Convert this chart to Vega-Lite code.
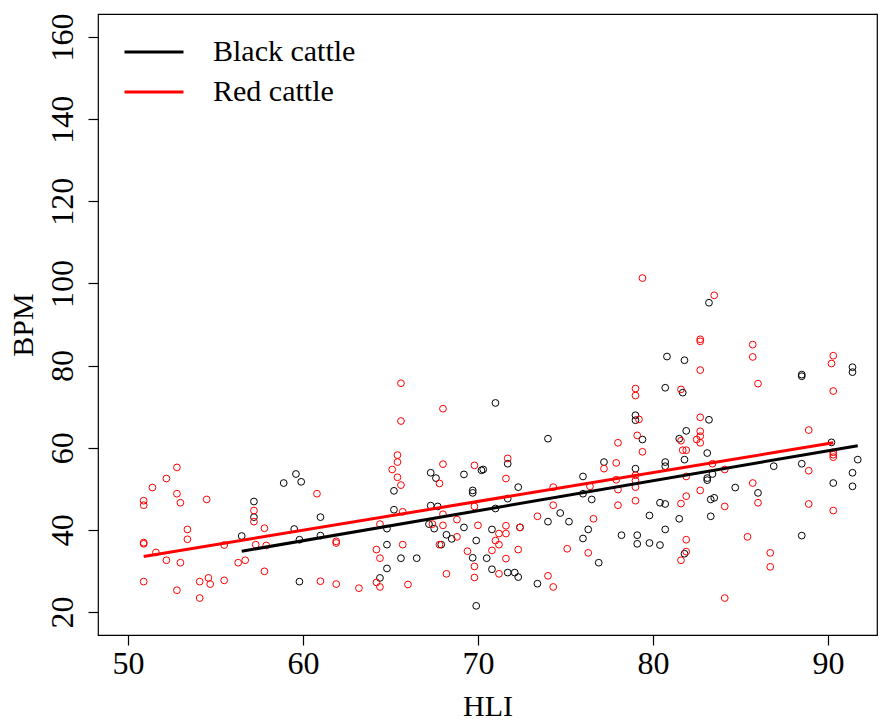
{
  "$schema": "https://vega.github.io/schema/vega-lite/v6.json",
  "width": 779,
  "height": 621,
  "autosize": {"type": "none"},
  "padding": {"left": 98, "top": 14, "right": 4, "bottom": 86},
  "background": "white",
  "config": {
    "view": {"stroke": "#000000", "strokeWidth": 1.2},
    "font": "Liberation Serif",
    "axis": {
      "grid": false, "domain": false, "tickColor": "#000000", "tickSize": 10, "tickWidth": 1.2,
      "labelFont": "Liberation Serif", "labelFontSize": 32, "labelColor": "#000000",
      "titleFont": "Liberation Serif", "titleFontSize": 30, "titleFontWeight": "normal", "titleColor": "#000000"
    }
  },
  "datasets": {
    "pts": [
      {"breed":"Black cattle","HLI":57.2,"BPM":46.9},{"breed":"Black cattle","HLI":57.2,"BPM":43.1},{"breed":"Black cattle","HLI":58.9,"BPM":51.4},{"breed":"Black cattle","HLI":59.6,"BPM":53.6},{"breed":"Black cattle","HLI":59.9,"BPM":51.7},{"breed":"Black cattle","HLI":56.5,"BPM":38.5},{"breed":"Black cattle","HLI":59.5,"BPM":40.2},{"breed":"Black cattle","HLI":59.8,"BPM":37.6},{"breed":"Black cattle","HLI":59.8,"BPM":27.4},
      {"breed":"Black cattle","HLI":71.0,"BPM":70.9},{"breed":"Black cattle","HLI":65.2,"BPM":49.5},{"breed":"Black cattle","HLI":67.3,"BPM":53.9},{"breed":"Black cattle","HLI":67.6,"BPM":52.6},{"breed":"Black cattle","HLI":69.2,"BPM":53.5},{"breed":"Black cattle","HLI":70.2,"BPM":54.5},{"breed":"Black cattle","HLI":70.3,"BPM":54.7},{"breed":"Black cattle","HLI":69.7,"BPM":49.6},{"breed":"Black cattle","HLI":69.7,"BPM":49.0},{"breed":"Black cattle","HLI":61.0,"BPM":43.1},{"breed":"Black cattle","HLI":65.2,"BPM":44.9},{"breed":"Black cattle","HLI":67.3,"BPM":45.9},{"breed":"Black cattle","HLI":67.7,"BPM":45.7},{"breed":"Black cattle","HLI":71.0,"BPM":45.2},{"breed":"Black cattle","HLI":61.0,"BPM":38.6},{"breed":"Black cattle","HLI":64.8,"BPM":40.3},{"breed":"Black cattle","HLI":67.2,"BPM":41.4},{"breed":"Black cattle","HLI":67.5,"BPM":40.3},{"breed":"Black cattle","HLI":69.2,"BPM":40.6},{"breed":"Black cattle","HLI":68.2,"BPM":38.8},{"breed":"Black cattle","HLI":68.5,"BPM":37.8},{"breed":"Black cattle","HLI":69.9,"BPM":37.4},{"breed":"Black cattle","HLI":70.8,"BPM":40.1},{"breed":"Black cattle","HLI":64.8,"BPM":36.4},{"breed":"Black cattle","HLI":67.9,"BPM":36.4},{"breed":"Black cattle","HLI":65.6,"BPM":33.1},{"breed":"Black cattle","HLI":66.5,"BPM":33.1},{"breed":"Black cattle","HLI":64.8,"BPM":30.6},{"breed":"Black cattle","HLI":64.4,"BPM":28.3},{"breed":"Black cattle","HLI":69.7,"BPM":33.2},{"breed":"Black cattle","HLI":70.5,"BPM":33.1},{"breed":"Black cattle","HLI":70.8,"BPM":30.4},{"breed":"Black cattle","HLI":69.9,"BPM":21.5},
      {"breed":"Black cattle","HLI":80.8,"BPM":82.2},{"breed":"Black cattle","HLI":81.8,"BPM":81.3},{"breed":"Black cattle","HLI":80.7,"BPM":74.6},{"breed":"Black cattle","HLI":81.7,"BPM":73.4},{"breed":"Black cattle","HLI":79.0,"BPM":67.9},{"breed":"Black cattle","HLI":79.0,"BPM":66.7},{"breed":"Black cattle","HLI":79.4,"BPM":62.0},{"breed":"Black cattle","HLI":74.0,"BPM":62.2},{"breed":"Black cattle","HLI":77.2,"BPM":56.5},{"breed":"Black cattle","HLI":79.0,"BPM":54.9},{"breed":"Black cattle","HLI":76.0,"BPM":53.0},{"breed":"Black cattle","HLI":76.0,"BPM":48.8},{"breed":"Black cattle","HLI":76.5,"BPM":47.4},{"breed":"Black cattle","HLI":80.7,"BPM":56.5},{"breed":"Black cattle","HLI":80.7,"BPM":55.5},{"breed":"Black cattle","HLI":81.5,"BPM":62.2},{"breed":"Black cattle","HLI":81.8,"BPM":57.1},{"breed":"Black cattle","HLI":81.9,"BPM":64.1},{"breed":"Black cattle","HLI":80.4,"BPM":46.6},{"breed":"Black cattle","HLI":80.7,"BPM":46.3},{"breed":"Black cattle","HLI":79.8,"BPM":43.5},{"breed":"Black cattle","HLI":81.5,"BPM":42.7},{"breed":"Black cattle","HLI":80.7,"BPM":40.1},{"breed":"Black cattle","HLI":78.2,"BPM":38.7},{"breed":"Black cattle","HLI":79.1,"BPM":38.7},{"breed":"Black cattle","HLI":79.1,"BPM":36.6},{"breed":"Black cattle","HLI":79.8,"BPM":36.8},{"breed":"Black cattle","HLI":80.4,"BPM":36.3},{"breed":"Black cattle","HLI":81.8,"BPM":34.2},{"breed":"Black cattle","HLI":76.3,"BPM":40.1},{"breed":"Black cattle","HLI":76.0,"BPM":37.9},{"breed":"Black cattle","HLI":76.9,"BPM":32.0},{"breed":"Black cattle","HLI":75.2,"BPM":42.0},{"breed":"Black cattle","HLI":74.7,"BPM":44.1},{"breed":"Black cattle","HLI":74.0,"BPM":42.0},{"breed":"Black cattle","HLI":72.3,"BPM":50.4},{"breed":"Black cattle","HLI":71.7,"BPM":56.1},{"breed":"Black cattle","HLI":71.7,"BPM":47.6},{"breed":"Black cattle","HLI":72.4,"BPM":40.6},{"breed":"Black cattle","HLI":71.7,"BPM":29.6},{"breed":"Black cattle","HLI":72.1,"BPM":29.6},{"breed":"Black cattle","HLI":72.3,"BPM":28.5},{"breed":"Black cattle","HLI":73.4,"BPM":26.9},
      {"breed":"Black cattle","HLI":83.2,"BPM":95.3},{"breed":"Black cattle","HLI":88.5,"BPM":77.8},{"breed":"Black cattle","HLI":88.5,"BPM":77.4},{"breed":"Black cattle","HLI":91.4,"BPM":79.6},{"breed":"Black cattle","HLI":91.4,"BPM":78.4},{"breed":"Black cattle","HLI":83.2,"BPM":66.8},{"breed":"Black cattle","HLI":90.2,"BPM":61.3},{"breed":"Black cattle","HLI":91.7,"BPM":57.1},{"breed":"Black cattle","HLI":83.1,"BPM":58.7},{"breed":"Black cattle","HLI":83.1,"BPM":52.6},{"breed":"Black cattle","HLI":83.1,"BPM":52.1},{"breed":"Black cattle","HLI":83.4,"BPM":53.6},{"breed":"Black cattle","HLI":86.9,"BPM":55.5},{"breed":"Black cattle","HLI":88.5,"BPM":56.1},{"breed":"Black cattle","HLI":91.4,"BPM":53.9},{"breed":"Black cattle","HLI":90.3,"BPM":51.4},{"breed":"Black cattle","HLI":91.4,"BPM":50.6},{"breed":"Black cattle","HLI":84.7,"BPM":50.3},{"breed":"Black cattle","HLI":86.0,"BPM":49.0},{"breed":"Black cattle","HLI":83.3,"BPM":47.4},{"breed":"Black cattle","HLI":83.5,"BPM":47.8},{"breed":"Black cattle","HLI":83.3,"BPM":43.3},{"breed":"Black cattle","HLI":88.5,"BPM":38.6},
      {"breed":"Red cattle","HLI":52.8,"BPM":55.2},{"breed":"Red cattle","HLI":52.2,"BPM":52.5},{"breed":"Red cattle","HLI":51.4,"BPM":50.3},{"breed":"Red cattle","HLI":52.8,"BPM":48.8},{"breed":"Red cattle","HLI":53.0,"BPM":46.6},{"breed":"Red cattle","HLI":50.9,"BPM":47.1},{"breed":"Red cattle","HLI":50.9,"BPM":46.0},{"breed":"Red cattle","HLI":54.5,"BPM":47.4},{"breed":"Red cattle","HLI":57.2,"BPM":44.7},{"breed":"Red cattle","HLI":57.2,"BPM":42.0},{"breed":"Red cattle","HLI":53.4,"BPM":40.1},{"breed":"Red cattle","HLI":53.4,"BPM":37.7},{"breed":"Red cattle","HLI":50.9,"BPM":36.9},{"breed":"Red cattle","HLI":50.9,"BPM":36.6},{"breed":"Red cattle","HLI":51.6,"BPM":34.5},{"breed":"Red cattle","HLI":52.2,"BPM":32.6},{"breed":"Red cattle","HLI":53.0,"BPM":32.0},{"breed":"Red cattle","HLI":55.5,"BPM":36.3},{"breed":"Red cattle","HLI":57.8,"BPM":40.4},{"breed":"Red cattle","HLI":57.3,"BPM":36.4},{"breed":"Red cattle","HLI":57.9,"BPM":36.2},{"breed":"Red cattle","HLI":56.3,"BPM":32.0},{"breed":"Red cattle","HLI":56.7,"BPM":32.6},{"breed":"Red cattle","HLI":57.8,"BPM":29.9},{"breed":"Red cattle","HLI":50.9,"BPM":27.4},{"breed":"Red cattle","HLI":52.8,"BPM":25.3},{"breed":"Red cattle","HLI":54.1,"BPM":27.4},{"breed":"Red cattle","HLI":54.6,"BPM":28.3},{"breed":"Red cattle","HLI":54.7,"BPM":26.8},{"breed":"Red cattle","HLI":55.5,"BPM":27.7},{"breed":"Red cattle","HLI":54.1,"BPM":23.4},
      {"breed":"Red cattle","HLI":65.6,"BPM":75.7},{"breed":"Red cattle","HLI":68.0,"BPM":69.5},{"breed":"Red cattle","HLI":65.6,"BPM":66.5},{"breed":"Red cattle","HLI":65.4,"BPM":58.2},{"breed":"Red cattle","HLI":65.4,"BPM":56.5},{"breed":"Red cattle","HLI":65.1,"BPM":54.7},{"breed":"Red cattle","HLI":65.4,"BPM":52.8},{"breed":"Red cattle","HLI":65.6,"BPM":50.9},{"breed":"Red cattle","HLI":68.0,"BPM":56.0},{"breed":"Red cattle","HLI":67.8,"BPM":51.3},{"breed":"Red cattle","HLI":69.8,"BPM":55.7},{"breed":"Red cattle","HLI":60.8,"BPM":48.8},{"breed":"Red cattle","HLI":65.7,"BPM":44.4},{"breed":"Red cattle","HLI":69.8,"BPM":45.7},{"breed":"Red cattle","HLI":68.0,"BPM":43.8},{"breed":"Red cattle","HLI":61.9,"BPM":37.2},{"breed":"Red cattle","HLI":61.9,"BPM":36.8},{"breed":"Red cattle","HLI":64.4,"BPM":41.4},{"breed":"Red cattle","HLI":67.4,"BPM":41.4},{"breed":"Red cattle","HLI":68.0,"BPM":41.1},{"breed":"Red cattle","HLI":68.8,"BPM":42.5},{"breed":"Red cattle","HLI":68.8,"BPM":38.3},{"breed":"Red cattle","HLI":70.0,"BPM":41.1},{"breed":"Red cattle","HLI":71.0,"BPM":37.4},{"breed":"Red cattle","HLI":70.8,"BPM":35.0},{"breed":"Red cattle","HLI":71.2,"BPM":39.1},{"breed":"Red cattle","HLI":65.7,"BPM":36.4},{"breed":"Red cattle","HLI":67.8,"BPM":36.4},{"breed":"Red cattle","HLI":64.2,"BPM":35.2},{"breed":"Red cattle","HLI":64.4,"BPM":33.1},{"breed":"Red cattle","HLI":64.2,"BPM":27.2},{"breed":"Red cattle","HLI":64.4,"BPM":26.1},{"breed":"Red cattle","HLI":66.0,"BPM":26.7},{"breed":"Red cattle","HLI":68.2,"BPM":29.3},{"breed":"Red cattle","HLI":69.4,"BPM":34.8},{"breed":"Red cattle","HLI":69.8,"BPM":31.1},{"breed":"Red cattle","HLI":69.8,"BPM":28.4},{"breed":"Red cattle","HLI":61.0,"BPM":27.5},{"breed":"Red cattle","HLI":61.9,"BPM":26.8},{"breed":"Red cattle","HLI":63.2,"BPM":25.8},
      {"breed":"Red cattle","HLI":81.6,"BPM":74.2},{"breed":"Red cattle","HLI":79.0,"BPM":74.4},{"breed":"Red cattle","HLI":79.0,"BPM":72.7},{"breed":"Red cattle","HLI":79.2,"BPM":66.9},{"breed":"Red cattle","HLI":79.1,"BPM":63.0},{"breed":"Red cattle","HLI":79.4,"BPM":59.0},{"breed":"Red cattle","HLI":78.0,"BPM":61.2},{"breed":"Red cattle","HLI":77.2,"BPM":54.9},{"breed":"Red cattle","HLI":77.9,"BPM":56.3},{"breed":"Red cattle","HLI":79.0,"BPM":53.3},{"breed":"Red cattle","HLI":79.0,"BPM":52.0},{"breed":"Red cattle","HLI":77.9,"BPM":52.2},{"breed":"Red cattle","HLI":78.0,"BPM":49.8},{"breed":"Red cattle","HLI":79.0,"BPM":50.4},{"breed":"Red cattle","HLI":79.0,"BPM":47.1},{"breed":"Red cattle","HLI":78.0,"BPM":46.0},{"breed":"Red cattle","HLI":76.4,"BPM":50.6},{"breed":"Red cattle","HLI":81.6,"BPM":61.7},{"breed":"Red cattle","HLI":81.7,"BPM":59.4},{"breed":"Red cattle","HLI":81.9,"BPM":59.4},{"breed":"Red cattle","HLI":81.9,"BPM":53.0},{"breed":"Red cattle","HLI":81.6,"BPM":46.4},{"breed":"Red cattle","HLI":81.9,"BPM":48.2},{"breed":"Red cattle","HLI":81.9,"BPM":37.6},{"breed":"Red cattle","HLI":81.9,"BPM":34.7},{"breed":"Red cattle","HLI":81.6,"BPM":32.6},{"breed":"Red cattle","HLI":76.6,"BPM":42.7},{"breed":"Red cattle","HLI":76.3,"BPM":34.4},{"breed":"Red cattle","HLI":75.1,"BPM":35.4},{"breed":"Red cattle","HLI":73.4,"BPM":43.3},{"breed":"Red cattle","HLI":74.3,"BPM":46.0},{"breed":"Red cattle","HLI":74.3,"BPM":50.4},{"breed":"Red cattle","HLI":71.6,"BPM":52.5},{"breed":"Red cattle","HLI":71.7,"BPM":57.4},{"breed":"Red cattle","HLI":71.6,"BPM":41.0},{"breed":"Red cattle","HLI":71.6,"BPM":39.1},{"breed":"Red cattle","HLI":71.2,"BPM":36.4},{"breed":"Red cattle","HLI":72.4,"BPM":40.6},{"breed":"Red cattle","HLI":72.3,"BPM":35.2},{"breed":"Red cattle","HLI":71.6,"BPM":33.0},{"breed":"Red cattle","HLI":71.2,"BPM":29.3},{"breed":"Red cattle","HLI":74.0,"BPM":28.8},{"breed":"Red cattle","HLI":74.3,"BPM":26.1},
      {"breed":"Red cattle","HLI":83.5,"BPM":97.1},{"breed":"Red cattle","HLI":82.7,"BPM":86.4},{"breed":"Red cattle","HLI":82.7,"BPM":85.9},{"breed":"Red cattle","HLI":85.7,"BPM":85.1},{"breed":"Red cattle","HLI":85.7,"BPM":82.1},{"breed":"Red cattle","HLI":82.7,"BPM":78.9},{"breed":"Red cattle","HLI":86.0,"BPM":75.6},{"breed":"Red cattle","HLI":90.3,"BPM":82.4},{"breed":"Red cattle","HLI":90.2,"BPM":80.5},{"breed":"Red cattle","HLI":90.3,"BPM":73.8},{"breed":"Red cattle","HLI":82.7,"BPM":67.4},{"breed":"Red cattle","HLI":82.7,"BPM":64.0},{"breed":"Red cattle","HLI":82.7,"BPM":62.8},{"breed":"Red cattle","HLI":82.5,"BPM":62.0},{"breed":"Red cattle","HLI":82.7,"BPM":61.2},{"breed":"Red cattle","HLI":88.9,"BPM":64.3},{"breed":"Red cattle","HLI":90.3,"BPM":58.9},{"breed":"Red cattle","HLI":90.3,"BPM":58.3},{"breed":"Red cattle","HLI":90.3,"BPM":57.7},{"breed":"Red cattle","HLI":83.4,"BPM":56.1},{"breed":"Red cattle","HLI":84.1,"BPM":54.7},{"breed":"Red cattle","HLI":88.9,"BPM":54.4},{"breed":"Red cattle","HLI":85.7,"BPM":51.4},{"breed":"Red cattle","HLI":86.0,"BPM":46.6},{"breed":"Red cattle","HLI":88.9,"BPM":46.3},{"breed":"Red cattle","HLI":90.3,"BPM":44.7},{"breed":"Red cattle","HLI":82.7,"BPM":49.6},{"breed":"Red cattle","HLI":84.1,"BPM":45.7},{"breed":"Red cattle","HLI":85.4,"BPM":38.3},{"breed":"Red cattle","HLI":86.7,"BPM":34.4},{"breed":"Red cattle","HLI":86.7,"BPM":31.0},{"breed":"Red cattle","HLI":84.1,"BPM":23.4},
      {"breed":"Red cattle","HLI":79.4,"BPM":101.3}
    ],
    "fit": [
      {"breed":"Black cattle","HLI":56.5,"BPM":34.8},{"breed":"Black cattle","HLI":91.7,"BPM":60.5},
      {"breed":"Red cattle","HLI":50.9,"BPM":33.5},{"breed":"Red cattle","HLI":90.3,"BPM":61.2}
    ]
  },
  "layer": [
    {
      "data": {"name": "pts"},
      "mark": {"type": "point", "shape": "circle", "filled": false, "size": 46, "strokeWidth": 1, "opacity": 1},
      "encoding": {
        "x": {"field": "HLI", "type": "quantitative",
          "scale": {"domain": [48.29, 92.8], "nice": false, "zero": false},
          "axis": {"values": [50, 60, 70, 80, 90], "title": "HLI", "labelPadding": 3, "titlePadding": 12}},
        "y": {"field": "BPM", "type": "quantitative",
          "scale": {"domain": [14.4, 165.6], "nice": false, "zero": false},
          "axis": {"values": [20, 40, 60, 80, 100, 120, 140, 160], "title": "BPM", "labelAngle": -90, "labelAlign": "center", "labelBaseline": "alphabetic", "labelPadding": 16, "titlePadding": 8}},
        "color": {"field": "breed", "type": "nominal",
          "scale": {"domain": ["Black cattle", "Red cattle"], "range": ["#000000", "#ff0000"]},
          "legend": {"title": null, "orient": "none", "legendX": 25, "legendY": 18, "direction": "vertical",
            "symbolType": "stroke", "symbolSize": 3481, "symbolStrokeWidth": 3, "clipHeight": 40,
            "labelFont": "Liberation Serif", "labelFontSize": 30, "labelColor": "#000000", "labelOffset": 28, "rowPadding": 0}}
      }
    },
    {
      "data": {"name": "fit"},
      "mark": {"type": "line", "strokeWidth": 3},
      "encoding": {
        "x": {"field": "HLI", "type": "quantitative"},
        "y": {"field": "BPM", "type": "quantitative"},
        "color": {"field": "breed", "type": "nominal"}
      }
    }
  ]
}
